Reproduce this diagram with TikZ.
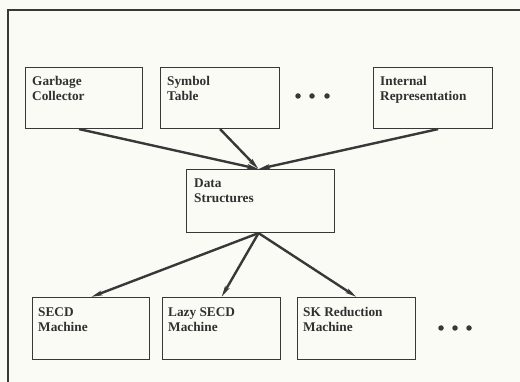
\documentclass[tikz,border=0pt]{standalone}
\usepackage{fontspec}
\setmainfont{Liberation Serif}
\usetikzlibrary{arrows.meta}
\definecolor{paper}{HTML}{FBFBF6}
\definecolor{ink}{HTML}{383838}
\tikzset{
  box/.style={draw=ink, line width=1.1pt, rectangle, anchor=north west, inner sep=0pt},
  boxtext/.style={anchor=north west, inner sep=0pt, align=left, text=ink!85!black,
    font=\bfseries\fontsize{13.3}{15}\selectfont},
  link/.style={draw=ink, line width=2.4pt, -{Stealth[length=11pt,width=4.5pt,inset=2pt]}},
  dot/.style={circle, fill=ink, inner sep=0pt, minimum size=5.5pt},
}
\begin{document}
\begin{tikzpicture}[x=1pt, y=-1pt]
  % page and outer frame
  \fill[paper] (0,0) rectangle (520,382);
  \useasboundingbox (0,0) rectangle (520,382);
  \draw[ink, line width=2.4pt] (8,390) -- (8,10) -- (530,10);

  % upper row of modules
  \node[box, minimum width=117pt, minimum height=61pt] (gc) at (25,67) {};
  \node[box, minimum width=119pt, minimum height=61pt] (st) at (160,67) {};
  \node[box, minimum width=119pt, minimum height=61pt] (ir) at (373,67) {};
  \node[boxtext] (gct) at (32,76) {Garbage\\Collector};
  \node[boxtext] (stt) at (167,76) {Symbol\\Table};
  \node[boxtext] (irt) at (380,76) {Internal\\Representation};
  \node[dot] (u1) at (298,96) {};
  \node[dot] (u2) at (312,96) {};
  \node[dot] (u3) at (327,96) {};

  % central module
  \node[box, minimum width=148pt, minimum height=63pt] (ds) at (186,169) {};
  \node[boxtext] (dst) at (194,179) {Data\\Structures};

  % lower row of machines
  \node[box, minimum width=117pt, minimum height=62pt] (secd) at (32,297) {};
  \node[box, minimum width=118pt, minimum height=62pt] (lazy) at (162,297) {};
  \node[box, minimum width=118pt, minimum height=62pt] (sk) at (297,297) {};
  \node[boxtext] (secdt) at (38,307) {SECD\\Machine};
  \node[boxtext] (lazyt) at (168,307) {Lazy SECD\\Machine};
  \node[boxtext] (skt) at (303,307) {SK Reduction\\Machine};
  \node[dot] (l1) at (441,328) {};
  \node[dot] (l2) at (455,328) {};
  \node[dot] (l3) at (469,328) {};

  % connectors
  \coordinate (dstop) at ([xshift=-2pt]ds.north);
  \coordinate (dsbot) at ([xshift=-2pt]ds.south);
  \draw[link] ([xshift=-5pt]gc.south) -- (dstop);
  \draw[link] (st.south) -- (dstop);
  \draw[link] ([xshift=5pt]ir.south) -- (dstop);
  \draw[link] (dsbot) -- (secd.north);
  \draw[link] (dsbot) -- (lazy.north);
  \draw[link] (dsbot) -- (sk.north);
\end{tikzpicture}
\end{document}
